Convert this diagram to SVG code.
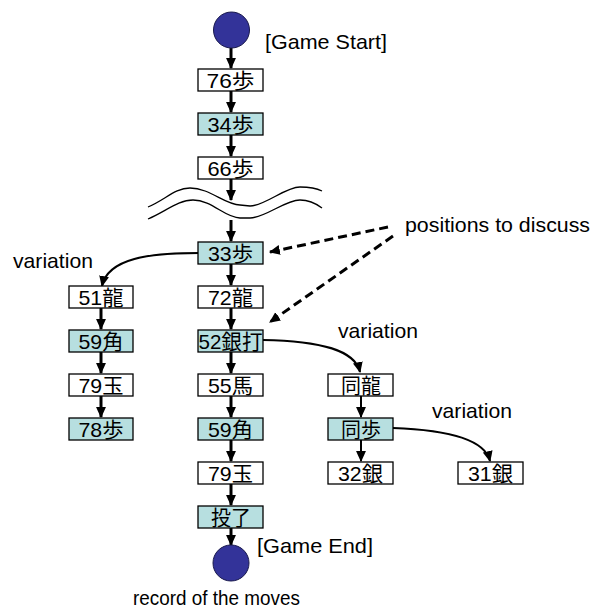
<svg xmlns="http://www.w3.org/2000/svg" width="591" height="609" viewBox="0 0 591 609">
<style>
.bx{stroke:#000;stroke-width:1.3}
.w{fill:#fff}
.c{fill:#B7DFE0}
.t{font-family:"Liberation Sans","Noto Sans CJK JP",sans-serif;font-size:21px;fill:#000}
.lb{font-family:"Liberation Sans","Noto Sans CJK JP",sans-serif;font-size:21px;fill:#000}
.a3{stroke:#000;stroke-width:3;fill:none;marker-end:url(#ah)}
.a2{stroke:#000;stroke-width:2;fill:none;marker-end:url(#ah)}
.cv{stroke:#000;stroke-width:2.2;fill:none;marker-end:url(#ah)}
.ds{stroke:#000;stroke-width:3;fill:none;stroke-dasharray:9,5;marker-end:url(#ah)}
.wv{stroke:#000;stroke-width:1.3;fill:none}
.dot{fill:#333399;stroke:#1a1a4d;stroke-width:1}
</style>
<defs>
<marker id="ah" markerUnits="userSpaceOnUse" markerWidth="11" markerHeight="11" viewBox="0 0 10 10" refX="9" refY="5" orient="auto">
<path d="M0,0.5 L10,5 L0,9.5 Z" fill="#000"/>
</marker>
</defs>

<g id="connectors">
<line class="a3" x1="231" y1="48" x2="231" y2="68"/>
<line class="a3" x1="231" y1="91" x2="231" y2="112"/>
<line class="a3" x1="231" y1="135" x2="231" y2="156"/>
<line class="a3" x1="231" y1="179" x2="231" y2="200"/>
<line class="a3" x1="231" y1="220" x2="231" y2="241"/>
<line class="a3" x1="231" y1="264" x2="231" y2="285"/>
<line class="a3" x1="231" y1="308" x2="231" y2="329"/>
<line class="a3" x1="231" y1="352" x2="231" y2="373"/>
<line class="a3" x1="231" y1="396" x2="231" y2="417"/>
<line class="a3" x1="231" y1="440" x2="231" y2="461"/>
<line class="a3" x1="231" y1="484" x2="231" y2="505"/>
<line class="a3" x1="231" y1="528" x2="231" y2="545"/>
<line class="a3" x1="101" y1="308" x2="101" y2="329"/>
<line class="a3" x1="101" y1="352" x2="101" y2="373"/>
<line class="a3" x1="101" y1="396" x2="101" y2="417"/>
<line class="a2" x1="361" y1="396" x2="361" y2="417"/>
<line class="a2" x1="361" y1="440" x2="361" y2="461"/>
<path class="cv" d="M199,253 C150,253 108,258 102,286"/>
<path class="cv" d="M263,340 C320,341 355,350 360,372"/>
<path class="cv" d="M393,428 C450,430 485,440 490,461"/>
<path class="ds" d="M388,227 L270,252"/>
<path class="ds" d="M393,236 L270,322"/>
<path class="wv" d="M148,207 C165,200 175,188 190,188 C210,188 225,205 240,205 L250,206 C265,206 285,187 300,187 C310,187 318,189 322,191"/>
<path class="wv" d="M148,219 C165,212 178,200 193,200 C212,200 225,218 240,218 L250,218 C265,218 285,200 300,200 C310,200 318,205 322,208"/>
</g>

<g id="start"><circle class="dot" cx="231.5" cy="30" r="18"/></g>
<g id="end"><circle class="dot" cx="231" cy="563" r="18"/></g>

<g id="n76"><rect class="bx w" x="198" y="69" width="65" height="22"/><text class="t" x="230.5" y="87.5" text-anchor="middle" textLength="48" lengthAdjust="spacingAndGlyphs">76歩</text></g>
<g id="n34"><rect class="bx c" x="198" y="113" width="65" height="22"/><text class="t" x="230.5" y="131.5" text-anchor="middle" textLength="46" lengthAdjust="spacingAndGlyphs">34歩</text></g>
<g id="n66"><rect class="bx w" x="198" y="157" width="65" height="22"/><text class="t" x="230.5" y="175.5" text-anchor="middle" textLength="46" lengthAdjust="spacingAndGlyphs">66歩</text></g>
<g id="n33"><rect class="bx c" x="198" y="242" width="65" height="22"/><text class="t" x="230.5" y="260.5" text-anchor="middle" textLength="45" lengthAdjust="spacingAndGlyphs">33歩</text></g>
<g id="n72"><rect class="bx w" x="198" y="286" width="65" height="22"/><text class="t" x="230.5" y="304.5" text-anchor="middle" textLength="45" lengthAdjust="spacingAndGlyphs">72龍</text></g>
<g id="n52"><rect class="bx c" x="198" y="330" width="65" height="22"/><text class="t" x="230.5" y="348.5" text-anchor="middle" textLength="64" lengthAdjust="spacingAndGlyphs">52銀打</text></g>
<g id="n55"><rect class="bx w" x="198" y="374" width="65" height="22"/><text class="t" x="230.5" y="392.5" text-anchor="middle" textLength="45" lengthAdjust="spacingAndGlyphs">55馬</text></g>
<g id="n59m"><rect class="bx c" x="198" y="418" width="65" height="22"/><text class="t" x="230.5" y="436.5" text-anchor="middle" textLength="45" lengthAdjust="spacingAndGlyphs">59角</text></g>
<g id="n79m"><rect class="bx w" x="198" y="462" width="65" height="22"/><text class="t" x="230.5" y="480.5" text-anchor="middle" textLength="45" lengthAdjust="spacingAndGlyphs">79玉</text></g>
<g id="ntoryo"><rect class="bx c" x="198" y="506" width="65" height="22"/><text class="t" x="231" y="524.5" text-anchor="middle" textLength="40" lengthAdjust="spacingAndGlyphs">投了</text></g>

<g id="n51"><rect class="bx w" x="69" y="286" width="64" height="22"/><text class="t" x="101" y="304.5" text-anchor="middle" textLength="45" lengthAdjust="spacingAndGlyphs">51龍</text></g>
<g id="n59l"><rect class="bx c" x="69" y="330" width="64" height="22"/><text class="t" x="101" y="348.5" text-anchor="middle" textLength="45" lengthAdjust="spacingAndGlyphs">59角</text></g>
<g id="n79l"><rect class="bx w" x="69" y="374" width="64" height="22"/><text class="t" x="101" y="392.5" text-anchor="middle" textLength="45" lengthAdjust="spacingAndGlyphs">79玉</text></g>
<g id="n78"><rect class="bx c" x="69" y="418" width="64" height="22"/><text class="t" x="101" y="436.5" text-anchor="middle" textLength="45" lengthAdjust="spacingAndGlyphs">78歩</text></g>

<g id="ndoryu"><rect class="bx w" x="328" y="374" width="65" height="22"/><text class="t" x="361" y="392.5" text-anchor="middle" textLength="40" lengthAdjust="spacingAndGlyphs">同龍</text></g>
<g id="ndofu"><rect class="bx c" x="328" y="418" width="65" height="22"/><text class="t" x="361" y="436.5" text-anchor="middle" textLength="40" lengthAdjust="spacingAndGlyphs">同歩</text></g>
<g id="n32"><rect class="bx w" x="328" y="462" width="65" height="22"/><text class="t" x="360.5" y="480.5" text-anchor="middle" textLength="45" lengthAdjust="spacingAndGlyphs">32銀</text></g>
<g id="n31"><rect class="bx w" x="458" y="462" width="65" height="22"/><text class="t" x="490.5" y="480.5" text-anchor="middle" textLength="45" lengthAdjust="spacingAndGlyphs">31銀</text></g>

<g id="labels">
<text class="lb" x="265" y="49" textLength="122" lengthAdjust="spacingAndGlyphs">[Game Start]</text>
<text class="lb" x="405" y="232" textLength="185" lengthAdjust="spacingAndGlyphs">positions to discuss</text>
<text class="lb" x="13" y="268" textLength="80" lengthAdjust="spacingAndGlyphs">variation</text>
<text class="lb" x="338" y="338" textLength="80" lengthAdjust="spacingAndGlyphs">variation</text>
<text class="lb" x="432" y="418" textLength="80" lengthAdjust="spacingAndGlyphs">variation</text>
<text class="lb" x="257" y="553" textLength="116" lengthAdjust="spacingAndGlyphs">[Game End]</text>
<text class="lb" x="133" y="605" textLength="167" lengthAdjust="spacingAndGlyphs">record of the moves</text>
</g>
</svg>
